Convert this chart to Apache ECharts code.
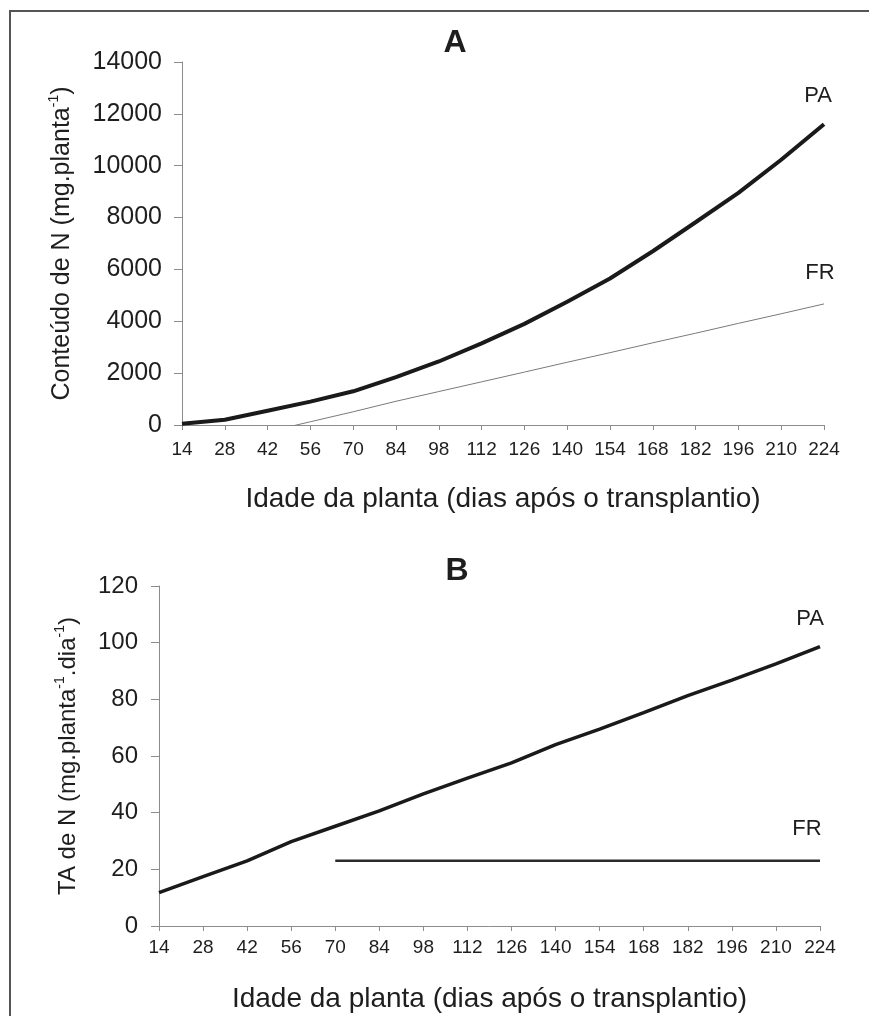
<!DOCTYPE html>
<html>
<head>
<meta charset="utf-8">
<script src="https://cdn.jsdelivr.net/npm/echarts@6/dist/echarts.min.js"></script>
<style>
  html, body { margin: 0; padding: 0; background: #fff; }
  #chart { width: 869px; height: 1016px; }
</style>
</head>
<body>
<div id="chart"></div>
<script>
// dias após o transplantio
const days = [14, 28, 42, 56, 70, 84, 98, 112, 126, 140, 154, 168, 182, 196, 210, 224]
const xTicks = { min: 14, max: 224, interval: 14 }

// A: conteúdo de N (mg.planta-1)
const contentPA = [50, 200, 550, 900, 1300, 1850, 2450, 3150, 3900, 4750, 5650, 6700, 7820, 8950, 10230, 11600]
const contentFRDays = [42, 56, 70, 84, 98, 112, 126, 140, 154, 168, 182, 196, 210, 224]
const contentFR = [-260, 125, 510, 915, 1290, 1665, 2040, 2420, 2790, 3170, 3540, 3920, 4290, 4670]
const yTicksA = { min: 0, max: 14000, interval: 2000 }

// B: TA de N (mg.planta-1.dia-1)
const ratePA = [11.8, 17.4, 23, 29.8, 35.2, 40.6, 46.6, 52.2, 57.6, 64, 69.5, 75.3, 81.3, 86.8, 92.5, 98.6]
const rateFRDays = [70, 84, 98, 112, 126, 140, 154, 168, 182, 196, 210, 224]
const rateFR = [23, 23, 23, 23, 23, 23, 23, 23, 23, 23, 23, 23]
const yTicksB = { min: 0, max: 120, interval: 20 }

const FONT = "'Liberation Sans', Arial, sans-serif"
const TXT = '#1e1e1e'
const AXIS = '#8c8c8c'

const pairs = (xs, ys) => xs.map((x, i) => [x, ys[i]])

const endTag = (text, x, y, offset) => ({
  symbol: 'circle',
  symbolSize: 0,
  silent: true,
  itemStyle: { color: 'transparent' },
  data: [{
    coord: [x, y],
    label: { show: true, formatter: text, position: 'inside', offset: offset, color: TXT, fontSize: 22, fontFamily: FONT }
  }]
})

const xAxisBase = (gridIndex, labelMargin, nameGap) => ({
  type: 'value',
  gridIndex,
  ...xTicks,
  name: 'Idade da planta (dias após o transplantio)',
  nameLocation: 'middle',
  nameGap: nameGap,
  nameTextStyle: { color: TXT, fontSize: 28, fontFamily: FONT },
  axisLine: { show: true, lineStyle: { color: AXIS, width: 1 } },
  axisTick: { show: true, length: 5, lineStyle: { color: AXIS } },
  axisLabel: { color: TXT, fontSize: 19, fontFamily: FONT, margin: labelMargin },
  splitLine: { show: false }
})

const chart = echarts.init(document.getElementById('chart'), null, { renderer: 'canvas' })

chart.setOption({
  backgroundColor: '#fff',
  animation: false,
  graphic: [
    { type: 'line', shape: { x1: 9, y1: 11, x2: 869, y2: 11 }, style: { stroke: '#555', lineWidth: 2 } },
    { type: 'line', shape: { x1: 10, y1: 10, x2: 10, y2: 1016 }, style: { stroke: '#555', lineWidth: 2 } },
    { type: 'text', x: 455, y: 43, style: { text: 'A', align: 'center', verticalAlign: 'middle', fill: TXT, font: 'bold 32px ' + FONT } },
    { type: 'text', x: 457, y: 571, style: { text: 'B', align: 'center', verticalAlign: 'middle', fill: TXT, font: 'bold 32px ' + FONT } }
  ],
  grid: [
    { left: 182, top: 62, width: 642, height: 363 },
    { left: 159, top: 586, width: 661, height: 340 }
  ],
  xAxis: [xAxisBase(0, 15, 60), xAxisBase(1, 12, 59)],
  yAxis: [
    {
      type: 'value',
      gridIndex: 0,
      ...yTicksA,
      name: 'Conteúdo de N (mg.planta{sup|-1})',
      nameLocation: 'middle',
      nameGap: 105,
      nameTextStyle: {
        color: TXT, fontSize: 25, fontFamily: FONT, lineHeight: 30,
        rich: { sup: { fontSize: 14, fontFamily: FONT, color: TXT, verticalAlign: 'top', lineHeight: 30 } }
      },
      axisLine: { show: true, lineStyle: { color: AXIS, width: 1 } },
      axisTick: { show: true, length: 8, lineStyle: { color: AXIS } },
      axisLabel: { color: TXT, fontSize: 25, fontFamily: FONT, margin: 20, formatter: v => String(v) },
      splitLine: { show: false }
    },
    {
      type: 'value',
      gridIndex: 1,
      ...yTicksB,
      name: 'TA de N (mg.planta{sup|-1}.dia{sup|-1})',
      nameLocation: 'middle',
      nameGap: 76,
      nameTextStyle: {
        color: TXT, fontSize: 24, fontFamily: FONT, lineHeight: 30,
        rich: { sup: { fontSize: 14, fontFamily: FONT, color: TXT, verticalAlign: 'top', lineHeight: 30 } }
      },
      axisLine: { show: true, lineStyle: { color: AXIS, width: 1 } },
      axisTick: { show: true, length: 8, lineStyle: { color: AXIS } },
      axisLabel: { color: TXT, fontSize: 24, fontFamily: FONT, margin: 21, formatter: v => String(v) },
      splitLine: { show: false }
    }
  ],
  series: [
    {
      name: 'PA', type: 'line', xAxisIndex: 0, yAxisIndex: 0,
      data: pairs(days, contentPA),
      showSymbol: false, clip: true,
      lineStyle: { color: '#1a1a1a', width: 4 },
      markPoint: endTag('PA', 224, contentPA[contentPA.length - 1], [-6, -28])
    },
    {
      name: 'FR', type: 'line', xAxisIndex: 0, yAxisIndex: 0,
      data: pairs(contentFRDays, contentFR),
      showSymbol: false, clip: true,
      lineStyle: { color: '#7a7a7a', width: 1 },
      markPoint: endTag('FR', 224, contentFR[contentFR.length - 1], [-4, -31])
    },
    {
      name: 'PA', type: 'line', xAxisIndex: 1, yAxisIndex: 1,
      data: pairs(days, ratePA),
      showSymbol: false, clip: true,
      lineStyle: { color: '#1a1a1a', width: 3.5 },
      markPoint: endTag('PA', 224, ratePA[ratePA.length - 1], [-10, -28])
    },
    {
      name: 'FR', type: 'line', xAxisIndex: 1, yAxisIndex: 1,
      data: pairs(rateFRDays, rateFR),
      showSymbol: false, clip: true,
      lineStyle: { color: '#2a2a2a', width: 2.5 },
      markPoint: endTag('FR', 224, rateFR[rateFR.length - 1], [-13, -32])
    }
  ]
})

window.addEventListener('resize', () => chart.resize())
</script>
</body>
</html>
